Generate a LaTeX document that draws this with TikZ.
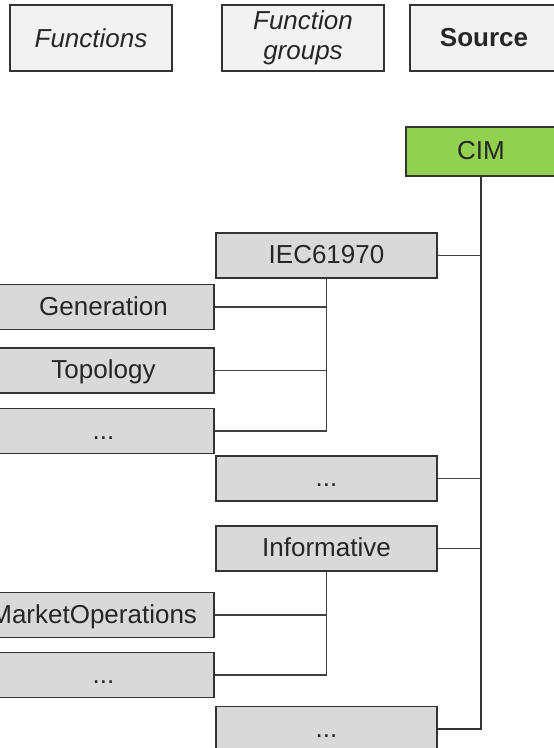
\documentclass[tikz,border=0pt]{standalone}
\usepackage{fontspec}
\setmainfont{Liberation Sans}
\usetikzlibrary{positioning,calc}
\definecolor{hdrfill}{HTML}{F2F2F2}
\definecolor{grpfill}{HTML}{D9D9D9}
\definecolor{cimgreen}{HTML}{92D050}
\definecolor{edgegray}{HTML}{333333}
\definecolor{linkgray}{HTML}{404040}
\newcommand{\boxfont}{\fontsize{26}{30}\selectfont}
\tikzset{
  box/.style={draw=edgegray,line width=1.8pt,inner sep=0pt,minimum height=45pt,font=\boxfont,text=black!85},
  lbl/.style={box,text height=20pt,text depth=4pt},
  hdrbox/.style={box,fill=hdrfill,minimum width=162pt,minimum height=66pt,align=center},
  grpbox/.style={lbl,fill=grpfill,minimum width=221pt},
  cimbox/.style={lbl,fill=cimgreen,minimum width=150pt,minimum height=49pt},
  link/.style={draw=linkgray,line width=1.8pt}
}
\begin{document}
\begin{tikzpicture}[x=1pt,y=-1pt]
\useasboundingbox (0,0) rectangle (554,748);
\clip (0,0) rectangle (554,748);
% legend row
\node[hdrbox,font=\boxfont\itshape] (fns) at (91,38) {Functions};
\node[hdrbox,font=\boxfont\itshape] (fgrp) at (303,38) {Function\\groups};
\node[hdrbox,font=\boxfont\bfseries,minimum width=148pt] (src) at (484,38) {Source};
% source
\node[cimbox] (cim) at (481,151.5) {CIM};
% function groups
\node[grpbox] (iec) at (326.5,255.5) {IEC61970};
\node[grpbox] (gdots1) at (326.5,478.5) {...};
\node[grpbox] (info) at (326.5,548.5) {Informative};
\node[grpbox] (gdots2) at (326.5,729) {...};
% functions
\node[grpbox] (gen) at (103.5,307) {Generation};
\node[grpbox] (topo) at (103.5,370.5) {Topology};
\node[grpbox] (fdots1) at (103.5,431) {...};
\node[grpbox] (mkt) at (103.5,615) {\makebox[187pt][r]{MarketOperations}};
\node[grpbox] (fdots2) at (103.5,675) {...};
% tree lines
\draw[link,draw=edgegray] (cim.south) |- (gdots2.east);
\draw[link] (iec.east) -- (iec.east -| cim.south);
\draw[link] (gdots1.east) -- (gdots1.east -| cim.south);
\draw[link] (info.east) -- (info.east -| cim.south);
\draw[link] (iec.south) |- (fdots1.east);
\draw[link] (gen.east) -- (gen.east -| iec.south);
\draw[link] (topo.east) -- (topo.east -| iec.south);
\draw[link] (info.south) |- (fdots2.east);
\draw[link] (mkt.east) -- (mkt.east -| info.south);
\end{tikzpicture}
\end{document}
